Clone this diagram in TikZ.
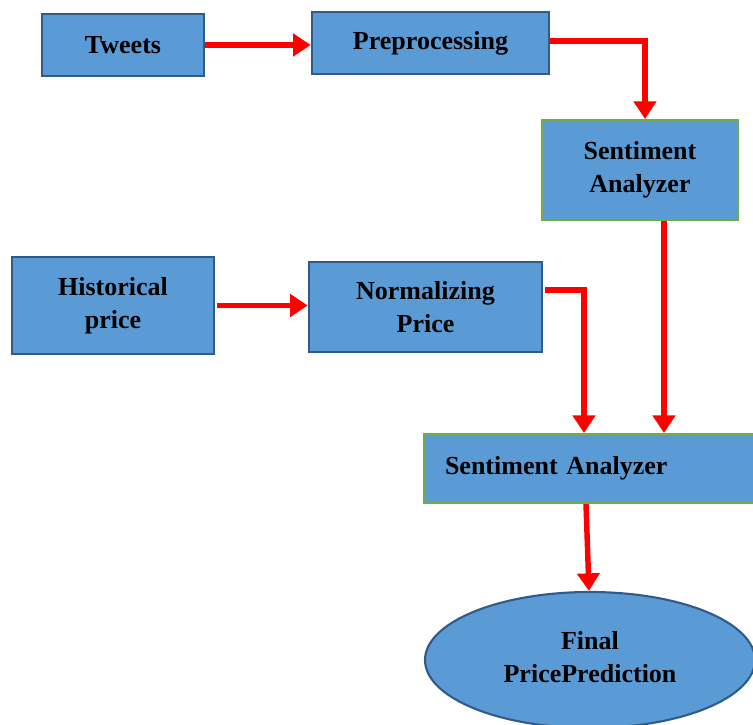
\documentclass[tikz,border=0pt]{standalone}
\usepackage{fontspec}
\setmainfont{Liberation Serif}
\usetikzlibrary{arrows.meta,shapes.geometric}
\definecolor{boxfill}{HTML}{5B9BD5}
\definecolor{boxline}{HTML}{2F5A8A}
\definecolor{greenline}{HTML}{70AD47}
\begin{document}
\begin{tikzpicture}[->,>={Triangle[width=12.5pt,length=10pt]},
              flow/.style={draw=red,line width=3.1pt},
              blue box/.style={rectangle,draw=boxline,fill=boxfill,line width=1.4pt,
                align=center,font=\fontsize{14.8}{18.5}\selectfont\bfseries},
              green box/.style={blue box,draw=greenline,line width=1.1pt},
              end node/.style={ellipse,draw=boxline,fill=boxfill,line width=1.2pt,
                align=center,font=\fontsize{14.8}{18.5}\selectfont\bfseries}]

            \useasboundingbox (0,0) rectangle (15.06,-14.5);

            \node[blue box,minimum width=3.24cm,minimum height=1.24cm] (tweets) at (2.46,-0.9) {Tweets};
            \node[blue box,minimum width=4.74cm,minimum height=1.24cm] (prep) at (8.61,-0.86) {Preprocessing};
            \node[green box,minimum width=3.92cm,minimum height=2cm] (sa1) at (12.8,-3.4) {Sentiment\\Analyzer};
            \node[blue box,minimum width=4.04cm,minimum height=1.94cm] (hist) at (2.26,-6.11) {Historical\\price};
            \node[blue box,minimum width=4.66cm,minimum height=1.8cm] (norm) at (8.51,-6.14) {Normalizing\\Price};
            \node[green box,minimum width=6.72cm,minimum height=1.38cm,inner xsep=0.42cm,
                  text width=5.88cm,align=left] (sa2) at (11.84,-9.37) {Sentiment Analyzer};
            \node[end node,minimum width=6.6cm,minimum height=2.72cm] (final) at (11.8,-13.2)
              {\raisebox{0.12cm}{Final}\\\raisebox{0.12cm}{PricePrediction}};

            \draw[flow] (tweets.east) -- (tweets.east -| prep.west);
            \draw[flow] ([yshift=0.04cm]prep.east) -| ([xshift=0.1cm]sa1.north);
            \draw[flow] ([xshift=0.04cm]hist.east) -- (hist.east -| norm.west);
            \draw[flow] ([xshift=0.04cm,yshift=0.34cm]norm.east) -| ([xshift=-0.16cm]sa2.north);
            \draw[flow] ([xshift=0.48cm]sa1.south) -- ([xshift=0.48cm]sa1.south |- sa2.north);
            \draw[flow] ([xshift=-0.12cm]sa2.south) -- ([xshift=-0.02cm]final.north);

          \end{tikzpicture}
\end{document}
